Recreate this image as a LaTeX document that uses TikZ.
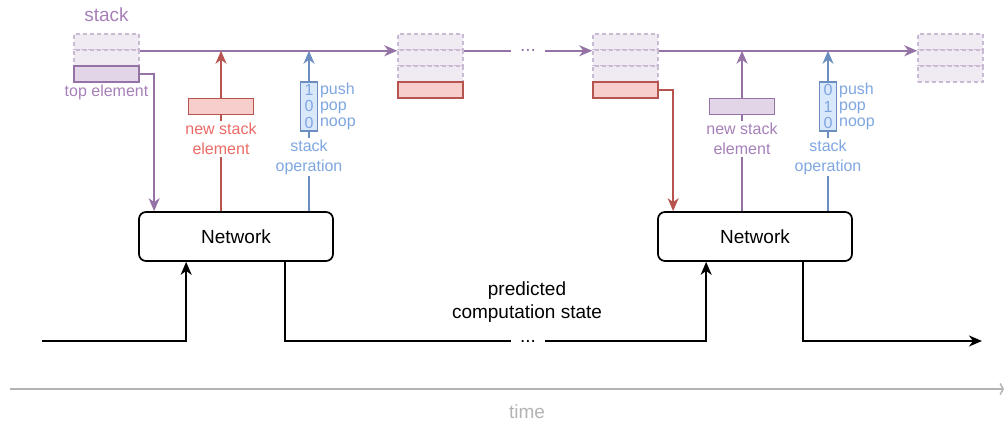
\documentclass[tikz,border=0pt]{standalone}
\usepackage{fontspec}
\setmainfont{Liberation Sans}
\usetikzlibrary{arrows.meta, positioning, calc}
\definecolor{stkline}{HTML}{9673A6}
\definecolor{stkfill}{HTML}{E1D5E7}
\definecolor{stktext}{HTML}{A680B8}
\definecolor{ghline}{HTML}{CAB9D3}
\definecolor{ghfill}{HTML}{F0EAF3}
\definecolor{newline}{HTML}{B85450}
\definecolor{newfill}{HTML}{F8CECC}
\definecolor{newtext}{HTML}{EA6B66}
\definecolor{opline}{HTML}{6C8EBF}
\definecolor{opfill}{HTML}{DAE8FC}
\definecolor{optext}{HTML}{7EA6E0}
\definecolor{timegray}{HTML}{B3B3B3}
\newcommand{\bigfont}{\fontsize{19}{23}\selectfont}
\newcommand{\smallfont}{\fontsize{16}{20}\selectfont}

\begin{document}
\begin{tikzpicture}[x=1pt, y=-1pt, line width=1.7pt,
    arr/.style={-{Stealth[length=13pt, width=11pt, inset=4pt]}},
    cell/.style={minimum width=65pt, minimum height=16pt, inner sep=0pt, line width=1.5pt},
    ghost/.style={cell, draw=ghline, fill=ghfill, dash pattern=on 4pt off 3pt},
    topcell/.style={cell, draw=stkline, fill=stkfill},
    redcell/.style={cell, draw=newline, fill=newfill},
    net/.style={draw, rounded corners=7pt, minimum width=194pt, minimum height=49pt, font=\bigfont},
    lbl/.style={align=center, inner sep=1pt, font=\smallfont},
    opvec/.style={draw=opline, fill=opfill, text=optext, align=center, inner sep=0pt,
        line width=1.5pt, minimum width=17pt, minimum height=49pt, font=\fontsize{16}{16.3}\selectfont},
    dots/.style={inner sep=0pt, minimum width=33pt, text height=3pt, text depth=0pt, font=\bigfont}]
    \useasboundingbox (0,0) rectangle (1005,421);

    % stacks
    \node[ghost] (s1a) at (106.5,42) {};
    \node[ghost] (s1b) at (106.5,58) {};
    \node[topcell] (top1) at (106.5,74) {};
    \node[text=stktext, font=\bigfont, above=7pt of s1a] (stk) {stack};
    \node[lbl, text=stktext, below=0pt of top1] (toplbl) {top element};

    \node[ghost] (s2a) at (430.5,42) {};
    \node[ghost] (s2b) at (430.5,58) {};
    \node[ghost] (s2c) at (430.5,74) {};
    \node[redcell] (s2d) at (430.5,90) {};

    \node[ghost] (s3a) at (625.5,42) {};
    \node[ghost] (s3b) at (625.5,58) {};
    \node[ghost] (s3c) at (625.5,74) {};
    \node[redcell] (s3d) at (625.5,90) {};

    \node[ghost] (s4a) at (950.5,42) {};
    \node[ghost] (s4b) at (950.5,58) {};
    \node[ghost] (s4c) at (950.5,74) {};

    \node[dots, text=stkline] (dtop) at (528,50) {...};

    % networks
    \node[net] (net1) at (236,236.5) {Network};
    \node[net] (net2) at (755,236.5) {Network};

    % step 1 outputs
    \node[redcell] (nb1) at (221,106.5) {};
    \node[lbl, text=newtext, below=6pt of nb1] (nl1) {new stack\\element};
    \node[opvec] (op1) at (309,106.5) {1\\0\\0};
    \node[lbl, text=optext, below=6pt of op1] (ol1) {stack\\operation};
    \node[text=optext, anchor=west, align=left, inner sep=1pt,
        font=\fontsize{16}{16.3}\selectfont] (ops1) at (op1.east) {push\\pop\\noop};

    % step 2 outputs
    \node[topcell] (nb2) at (742,106.5) {};
    \node[lbl, text=stktext, below=6pt of nb2] (nl2) {new stack\\element};
    \node[opvec] (op2) at (828,106.5) {0\\1\\0};
    \node[lbl, text=optext, below=6pt of op2] (ol2) {stack\\operation};
    \node[text=optext, anchor=west, align=left, inner sep=1pt,
        font=\fontsize{16}{16.3}\selectfont] (ops2) at (op2.east) {push\\pop\\noop};

    % stack line
    \draw[stkline, arr] (s1a.south east) -- (s2a.south west);
    \draw[stkline] (s2a.south east) -- (s2a.south east -| dtop.west);
    \draw[stkline, arr] (dtop.east |- s3a.south west) -- (s3a.south west);
    \draw[stkline, arr] (s3a.south east) -- (s4a.south west);

    % reads from the stack
    \draw[stkline, arr] (top1.east) -| ([xshift=16pt]net1.north west);
    \draw[newline, arr] (s3d.east) -| ([xshift=16pt]net2.north west);

    % writes to the stack
    \draw[newline] (net1.north -| nb1) -- (nl1.south);
    \draw[newline] (nl1.north) -- (nb1.south);
    \draw[newline, arr] (nb1.north) -- (nb1.north |- s1a.south);
    \draw[opline] (net1.north -| op1) -- (ol1.south);
    \draw[opline] (ol1.north) -- (op1.south);
    \draw[opline, arr] (op1.north) -- (op1.north |- s1a.south);

    \draw[stkline] (net2.north -| nb2) -- (nl2.south);
    \draw[stkline] (nl2.north) -- (nb2.south);
    \draw[stkline, arr] (nb2.north) -- (nb2.north |- s3a.south);
    \draw[opline] (net2.north -| op2) -- (ol2.south);
    \draw[opline] (ol2.north) -- (op2.south);
    \draw[opline, arr] (op2.north) -- (op2.north |- s3a.south);

    % computation state
    \coordinate (src) at (42,341);
    \coordinate (dst) at (982,341);
    \node[dots] (dbot) at (528,341) {...};
    \node[align=center, font=\bigfont] (pcs) at (527,302) {predicted\\computation state};
    \draw[arr] (src) -| ([xshift=48pt]net1.south west);
    \draw ([xshift=147pt]net1.south west) |- (dbot.west);
    \draw[arr] (dbot.east) -| ([xshift=49pt]net2.south west);
    \draw[arr] ([xshift=146pt]net2.south west) |- (dst);

    % time axis
    \coordinate (t0) at (10,389);
    \coordinate (t1) at (1004,389);
    \draw[timegray, line width=1.5pt, -{Straight Barb[length=3pt, width=11pt]}] (t0) -- (t1);
    \node[text=timegray, font=\bigfont] (time) at (527,412) {time};
\end{tikzpicture}
\end{document}
